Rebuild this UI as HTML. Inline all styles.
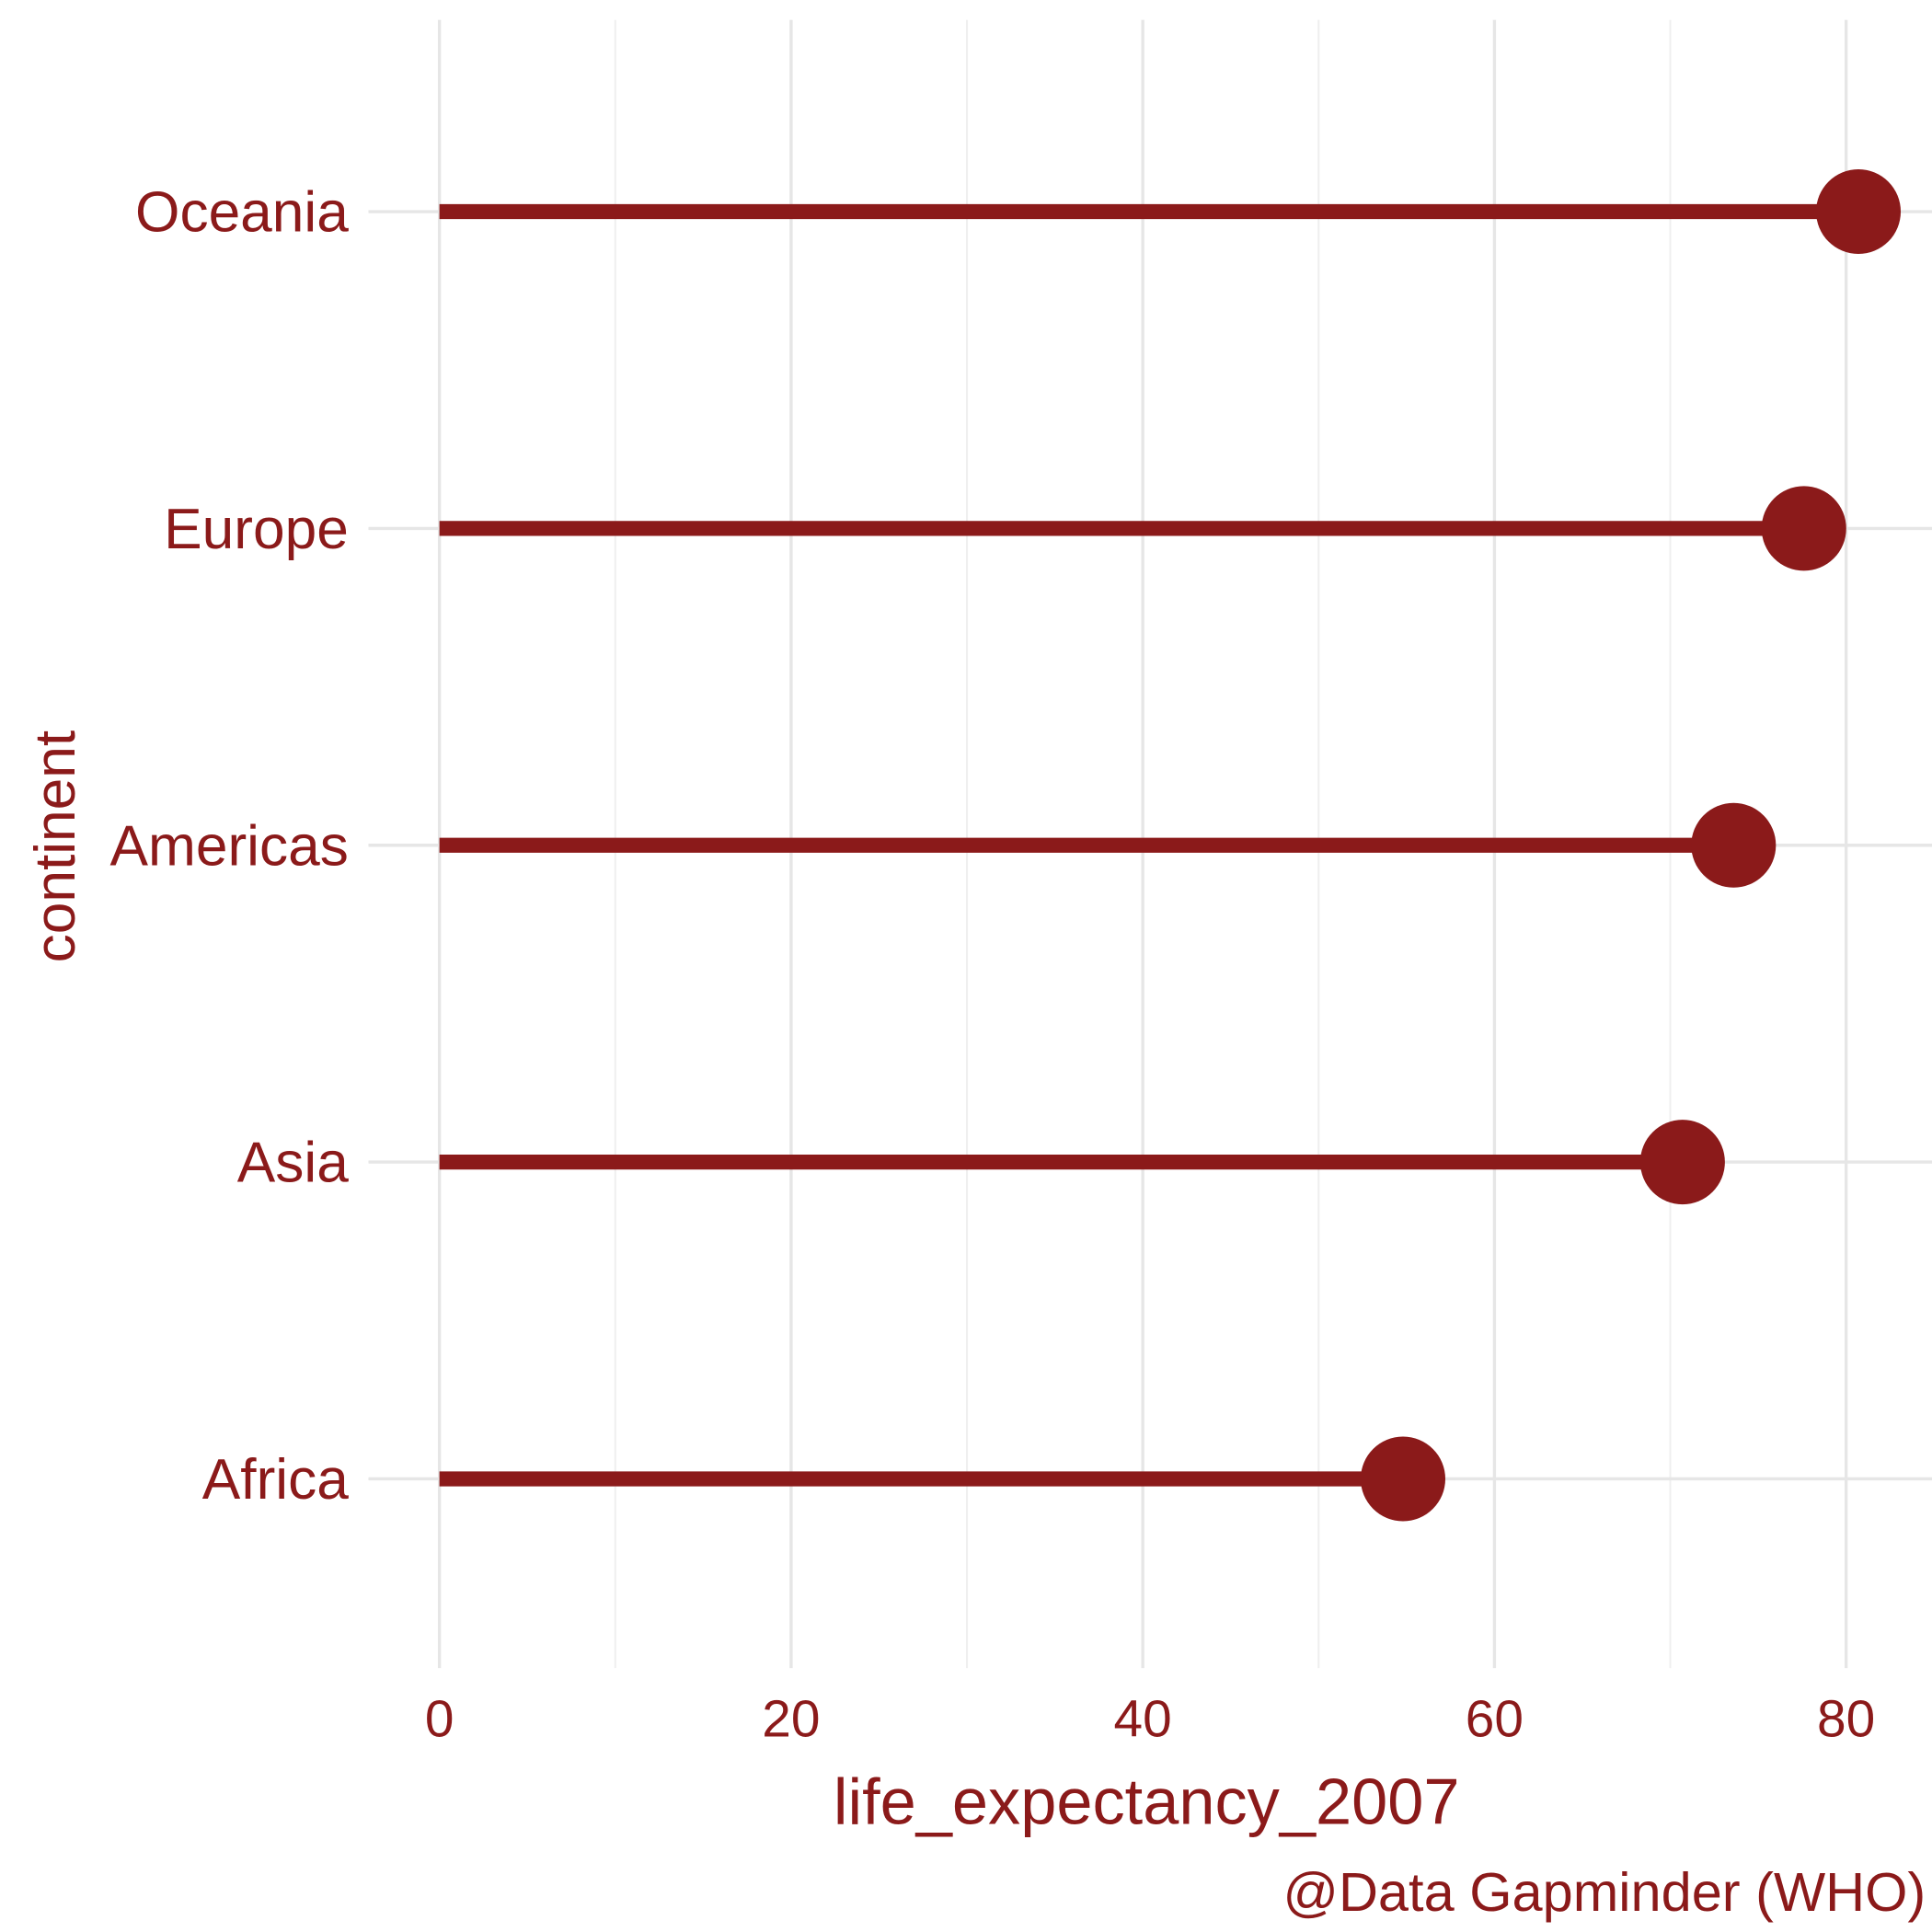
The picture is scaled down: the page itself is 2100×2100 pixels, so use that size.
<!DOCTYPE html>
<html><head><meta charset="utf-8"><style>
html,body{margin:0;padding:0;background:#fff;}
svg{display:block;}
text{font-family:"Liberation Sans Narrow","Liberation Sans",sans-serif;fill:#8B1A1A;}
</style></head><body>
<svg id="chart" width="2100" height="2100" viewBox="0 0 1552 1552" xmlns="http://www.w3.org/2000/svg">
<g id="grid"></g>
<g id="marks"></g>
<g id="labels"></g>
<text x="921" y="1465" font-size="52" text-anchor="middle">life_expectancy_2007</text>
<text transform="translate(60,680) rotate(-90)" font-size="46" text-anchor="middle">continent</text>
<text x="1547" y="1535" font-size="44" text-anchor="end">@Data Gapminder (WHO)</text>
</svg>
<script>
const categories = ["Africa","Asia","Americas","Europe","Oceania"];
const values = [54.8, 70.7, 73.6, 77.6, 80.7];
const xTicks = [0,20,40,60,80];
const xMinor = [10,30,50,70];
const NS="http://www.w3.org/2000/svg";
const x = v => 353 + v*14.125;
const y = i => 1188 - i*254.5;
function mk(tag, attrs, parent){const e=document.createElementNS(NS,tag);for(const k in attrs)e.setAttribute(k,attrs[k]);parent.appendChild(e);return e;}
const grid=document.getElementById('grid'),marks=document.getElementById('marks'),labels=document.getElementById('labels');
xMinor.forEach(v=>{const l=mk('line',{x1:x(v),x2:x(v),y1:16,y2:1340,stroke:'#efefef','stroke-width':1.5},grid);

});
xTicks.forEach(v=>{const l=mk('line',{x1:x(v),x2:x(v),y1:16,y2:1340,stroke:'#e6e6e6','stroke-width':2.5},grid);


const t=mk('text',{x:x(v),y:1395,'font-size':42,'text-anchor':'middle'},labels);t.textContent=v;

});
categories.forEach((c,i)=>{const l=mk('line',{x1:296,x2:1552,y1:y(i),y2:y(i),stroke:'#e6e6e6','stroke-width':2.5},grid);


const t=mk('text',{x:280,y:y(i)+16,'font-size':46,'text-anchor':'end'},labels);t.textContent=c;


const s=mk('line',{x1:x(0),x2:x(values[i]),y1:y(i),y2:y(i),stroke:'#8B1A1A','stroke-width':12},marks);


const d=mk('circle',{cx:x(values[i]),cy:y(i),r:34,fill:'#8B1A1A'},marks);

});
</script>
</body></html>
